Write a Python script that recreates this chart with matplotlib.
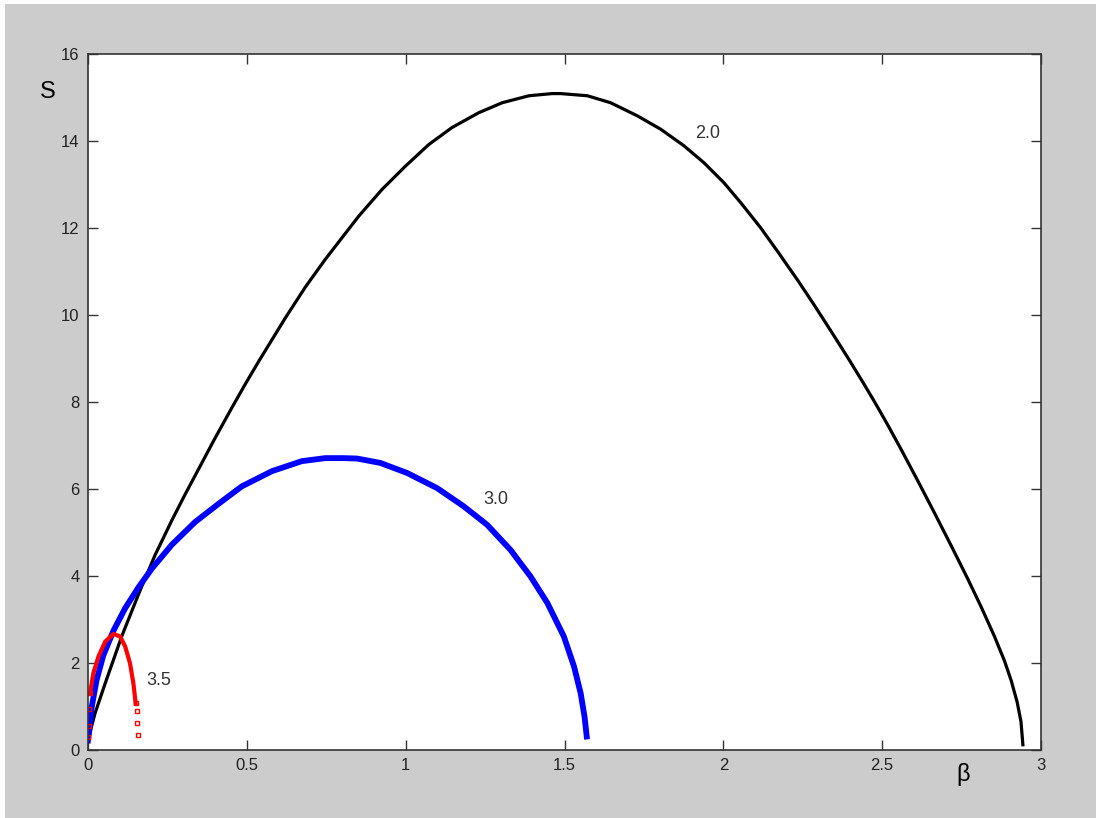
import matplotlib.pyplot as plt
from matplotlib.patches import Rectangle

# Data
beta_20 = [0.0, 0.022, 0.054, 0.106, 0.159, 0.211, 0.264, 0.306, 0.400, 0.453, 0.495,
           0.537, 0.579, 0.621, 0.684, 0.747, 0.800, 0.852, 0.926, 0.999, 1.073,
           1.146, 1.230, 1.304, 1.388, 1.461, 1.488, 1.572, 1.645, 1.729, 1.803,
           1.876, 1.939, 2.002, 2.055, 2.118, 2.170, 2.234, 2.286, 2.338, 2.391,
           2.443, 2.478, 2.517, 2.559, 2.612, 2.664, 2.717, 2.769, 2.811, 2.853,
           2.885, 2.906, 2.925, 2.937, 2.943]
s_20 = [0.23, 0.84, 1.53, 2.61, 3.58, 4.48, 5.28, 5.88, 7.17, 7.87, 8.41,
        8.93, 9.43, 9.93, 10.64, 11.28, 11.78, 12.27, 12.89, 13.42, 13.92,
        14.31, 14.65, 14.88, 15.04, 15.09, 15.09, 15.04, 14.88, 14.58, 14.27,
        13.89, 13.50, 13.04, 12.58, 12.00, 11.47, 10.80, 10.23, 9.64, 9.03,
        8.41, 7.98, 7.48, 6.92, 6.19, 5.46, 4.70, 3.94, 3.30, 2.62,
        2.05, 1.60, 1.10, 0.65, 0.12]

beta_30 = [0.0, 0.003, 0.012, 0.027, 0.048, 0.080, 0.117, 0.159, 0.201, 0.264, 0.337,
           0.411, 0.484, 0.579, 0.673, 0.747, 0.805, 0.847, 0.920, 1.004, 1.099,
           1.183, 1.256, 1.330, 1.393, 1.446, 1.498, 1.530, 1.551, 1.563, 1.570]
s_30 = [0.22, 0.38, 1.00, 1.61, 2.17, 2.74, 3.26, 3.74, 4.17, 4.72, 5.24,
        5.66, 6.06, 6.41, 6.64, 6.71, 6.71, 6.70, 6.60, 6.37, 6.02,
        5.60, 5.18, 4.60, 3.99, 3.38, 2.61, 1.92, 1.30, 0.77, 0.31]

beta_35 = [0.0, 0.002, 0.004, 0.006, 0.017, 0.033, 0.054, 0.080, 0.101, 0.117, 0.132,
           0.143, 0.150, 0.153, 0.155, 0.157]
s_35 = [0.30, 0.55, 0.95, 1.30, 1.77, 2.15, 2.49, 2.67, 2.61, 2.38, 2.00,
        1.53, 1.07, 0.90, 0.62, 0.35]

labels = ["2.0", "3.0", "3.5"]
label_pos = [(1.95, 14.18), (1.284, 5.75), (0.222, 1.60)]

plt.rcParams['font.family'] = ['Liberation Sans', 'DejaVu Sans']

fig = plt.figure(figsize=(10.96, 8.18), dpi=100)
fig.patch.set_facecolor('white')
fig.add_artist(Rectangle((5 / 1096, 0), 1, 1 - 4 / 818, transform=fig.transFigure,
                         facecolor='#cccccc', edgecolor='none', zorder=-10))
ax = fig.add_axes([88 / 1096, 68 / 818, 953 / 1096, 696 / 818])
ax.set_facecolor('white')

ax.plot(beta_20, s_20, color='black', lw=2.3)
ax.plot(beta_30, s_30, color='#0000ff', lw=4.2)
ax.plot(beta_35[3:-3], s_35[3:-3], color='#ff0000', lw=3.0)
# sparse hollow squares at both ends of the red curve
ax.plot(beta_35[-4:], s_35[-4:], ls='none', marker='s', ms=3.5, mfc='none',
        mec='#ff0000', mew=1.0)
ax.plot(beta_35[:4], s_35[:4], ls='none', marker='s', ms=3.5, mfc='none',
        mec='#ff0000', mew=1.0)

for txt, (bx, sy) in zip(labels, label_pos):
    ax.text(bx, sy, txt, fontsize=13, color='#333333', ha='center', va='center')

ax.set_xlim(0, 3)
ax.set_ylim(0, 16)
ax.set_xticks([0, 0.5, 1, 1.5, 2, 2.5, 3])
ax.set_xticklabels(["0", "0.5", "1", "1.5", "2", "2.5", "3"])
ax.set_yticks(range(0, 17, 2))
ax.tick_params(direction='in', top=True, right=True, length=7, width=1,
               labelsize=12, labelcolor='#222222', color='#333333', pad=6)
for sp in ax.spines.values():
    sp.set_color('#333333')
    sp.set_linewidth(1.2)

fig.text(48 / 1096, 1 - 92 / 818, "S", fontsize=17, ha='center', va='center')
fig.text(963 / 1096, 1 - 775 / 818, "β", fontsize=17, ha='center', va='center')

fig.savefig("out.png", dpi=100)
